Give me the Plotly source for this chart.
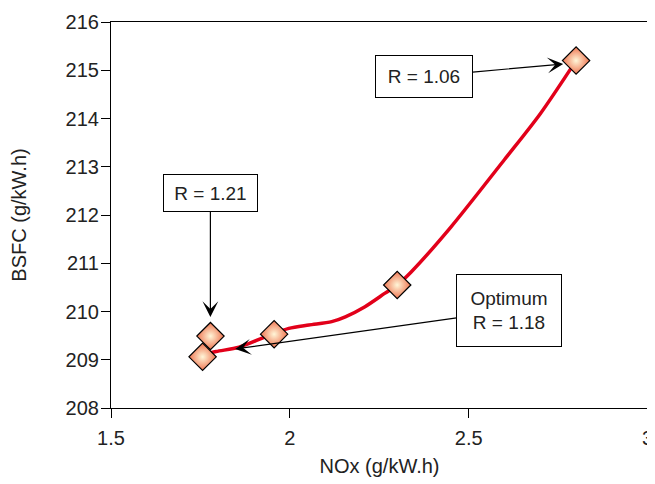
import plotly.graph_objects as go

# Measured points (NOx vs BSFC)
nox = [1.756, 1.778, 1.956, 2.30, 2.80]
bsfc = [209.06, 209.49, 209.53, 210.55, 215.2]

# Red trend curve
curve_x = [1.756, 1.794, 1.858, 1.933, 1.997, 2.053, 2.117, 2.155, 2.210, 2.266, 2.30, 2.339, 2.45, 2.60, 2.70, 2.80]
curve_y = [209.10, 209.17, 209.26, 209.48, 209.65, 209.72, 209.79, 209.89, 210.10, 210.38, 210.55, 210.82, 211.75, 213.15, 214.10, 215.2]

x_ticks = [1.5, 2, 2.5, 3]
x_tick_labels = ["1.5", "2", "2.5", "3"]
y_ticks = [208, 209, 210, 211, 212, 213, 214, 215, 216]

FONT = "Liberation Sans, Arial, Helvetica, sans-serif"

fig = go.Figure()
fig.add_trace(go.Scatter(
    x=curve_x, y=curve_y, mode="lines",
    line=dict(color="#e2001a", width=3.5, shape="spline", smoothing=0.8),
    hoverinfo="skip", showlegend=False,
))
fig.add_trace(go.Scatter(
    x=nox, y=bsfc, mode="markers",
    marker=dict(symbol="diamond", size=21, color="#ef7450",
                gradient=dict(type="radial", color="#fff6d8"),
                line=dict(color="black", width=1.2)),
    showlegend=False,
))

ann_common = dict(
    xref="x", yref="y", axref="pixel", ayref="pixel",
    showarrow=True, arrowhead=3, arrowsize=2.2, arrowwidth=1.2, arrowcolor="black",
    bordercolor="black", borderwidth=1, borderpad=2, bgcolor="white",
    font=dict(family=FONT, size=19, color="#222222"),
)
fig.add_annotation(x=2.764, y=215.13, ax=-139, ay=12.5, text="R = 1.06",
                   width=92, height=37, **ann_common)
fig.add_annotation(x=1.7778, y=209.886, ax=0, ay=-124, text="R = 1.21",
                   width=89, height=32, **ann_common)
fig.add_annotation(x=1.847, y=209.223, ax=274, ay=-38.5, text="Optimum<br>R = 1.18",
                   width=100, height=67, **ann_common)

axis_common = dict(
    showgrid=False, zeroline=False, showline=True, linecolor="black", linewidth=1.2,
    mirror=True, ticks="outside", ticklen=9, tickwidth=1.2, tickcolor="black",
    tickfont=dict(family=FONT, size=20, color="#222222"),
    ticklabeloverflow="allow", automargin=False,
)
fig.update_xaxes(range=[1.5, 3.001], tickvals=x_ticks, ticktext=x_tick_labels,
                 title=dict(text="NOx (g/kW.h)", font=dict(family=FONT, size=20, color="#222222"), standoff=10),
                 ticklabelstandoff=3, **axis_common)
fig.update_yaxes(range=[208, 216], tickvals=y_ticks,
                 title=dict(text="BSFC (g/kW.h)", font=dict(family=FONT, size=20, color="#222222"), standoff=33),
                 ticklabelstandoff=-2, **axis_common)

fig.update_layout(
    width=647, height=476,
    margin=dict(l=103, r=7, t=14, b=76, autoexpand=False),
    paper_bgcolor="white", plot_bgcolor="white",
    font=dict(family=FONT),
)
fig.write_html("out.html")
